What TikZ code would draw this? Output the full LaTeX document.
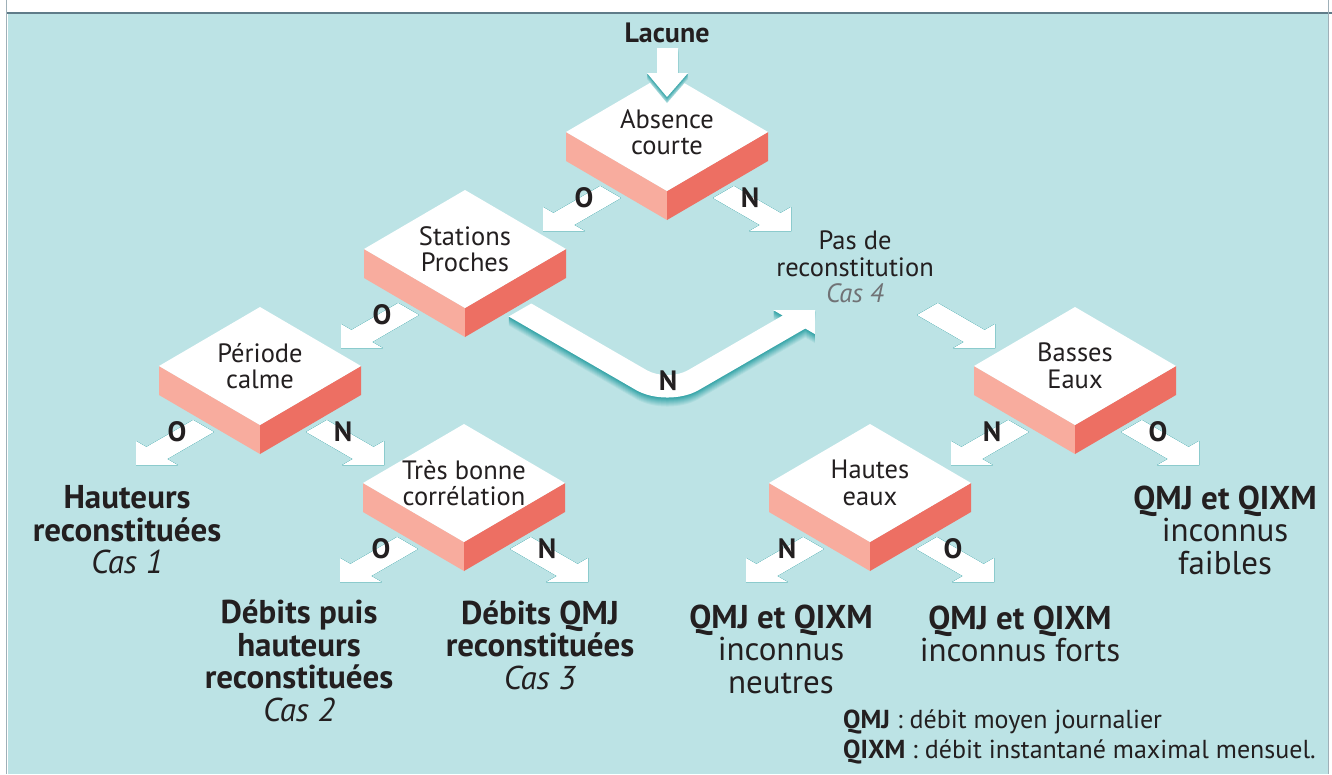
\documentclass[tikz,border=0pt]{standalone}
\usepackage{fontspec}
\setmainfont{PT Sans}
\usetikzlibrary{calc}

\definecolor{fond}{RGB}{188,227,229}
\definecolor{ombre}{RGB}{40,158,162}
\definecolor{flanc}{RGB}{248,172,158}
\definecolor{flancfonce}{RGB}{237,111,99}
\definecolor{encre}{RGB}{35,31,32}
\definecolor{gris}{RGB}{112,114,117}
\definecolor{cadre}{RGB}{95,124,137}

% fleche posee a plat : pointe, direction (dx,dy), y vers le bas
\newcommand{\flecheiso}[3]{(#1) -- ++({-48*(#2)},0) -- ++({12*(#2)},{-12*(#3)})
  -- ++({-54*(#2)},{-54*(#3)}) -- ++({24*(#2)},{-24*(#3)})
  -- ++({54*(#2)},{54*(#3)}) -- ++({12*(#2)},{-12*(#3)}) -- cycle}

\begin{document}
\begin{tikzpicture}[
  x=1pt, y=-1pt,
  bloc/.style={align=center, inner sep=0pt, text=encre, font=\fontsize{26.5}{26.5}\selectfont},
  rep/.style={inner sep=0pt, text=encre, font=\bfseries\fontsize{28}{28}\selectfont},
  resultat/.style={align=center, inner sep=0pt, text=encre, font=\fontsize{33}{32.5}\selectfont},
  legende/.style={align=left, inner sep=0pt, text=encre, font=\fontsize{26}{30}\selectfont},
]
  \useasboundingbox (0,0) rectangle (1332,774);
  \fill[fond] (7.5,14) rectangle (1328,774);
  \draw[cadre, line width=2pt] (6,13) -- (1332,13);
  \draw[cadre!60, line width=1.5pt] (6.5,0) -- (6.5,774);
  \draw[cadre!60, line width=1.5pt] (1328.5,0) -- (1328.5,774);

  % blocs de decision
  \foreach \n/\x/\y/\t in {abs/667/132/{Absence\\courte}, sta/465/249/{Stations\\Proches},
      per/260/366/{Période\\calme}, tre/464/483/{Très bonne\\corrélation},
      bas/1075/366/{Basses\\Eaux}, hau/870/483/{Hautes\\eaux}} {
    \begin{scope}[shift={(\x,\y)}]
      \fill[flanc] (-101,0) -- (0,59) -- (0,88) -- (-101,29) -- cycle;
      \fill[flancfonce] (101,0) -- (0,59) -- (0,88) -- (101,29) -- cycle;
      \fill[white] (-101,0) -- (0,-59) -- (101,0) -- (0,59) -- cycle;
      \node[bloc] (\n) at (0,0) {\t};
    \end{scope}
  }

  % fleches O / N
  \foreach \b/\sx/\lab in {abs/-1/O, abs/1/N, sta/-1/O, per/-1/O, per/1/N, tre/-1/O, tre/1/N,
      bas/-1/N, bas/1/O, hau/-1/N, hau/1/O} {
    \coordinate (\b-\lab) at ($(\b)+({124*\sx},99)$);
    \foreach \k in {9,...,1} {
      \pgfmathtruncatemacro\pct{100-10*\k}
      \fill[ombre!\pct!fond, yshift=-\k pt] \flecheiso{\b-\lab}{.866*\sx}{.5};
    }
    \fill[white] \flecheiso{\b-\lab}{.866*\sx}{.5};
    \node[rep] (r-\b-\lab) at ($(\b)+({83*\sx},66)$) {\lab};
  }

  \coordinate (bas-in) at ($(bas)+(-80,-18)$);
  \foreach \k in {9,...,1} {
    \pgfmathtruncatemacro\pct{100-10*\k}
    \fill[ombre!\pct!fond, yshift=-\k pt] \flecheiso{bas-in}{.866}{.5};
  }
  \fill[white] \flecheiso{bas-in}{.866}{.5};

  % fleche coudee N vers "pas de reconstitution"
  \coordinate (sta-N) at ($(sta)+(55,61)$);
  \def\coude{(11.3,-6.5) -- (126.6,60.1) .. controls (138,66.7) and (156.8,66.7) .. (168.2,60.1)
    -- (262.7,5.5) -- (253.2,0) -- (295,0) -- (294.8,24) -- (285.3,18.5) -- (178.6,80.1)
    .. controls (161.4,90) and (133.4,90) .. (116.2,80.1) -- (-11.3,6.5) -- cycle}
  \begin{scope}[shift={(sta-N)}]
    \foreach \k in {9,...,1} {
      \pgfmathtruncatemacro\pct{100-10*\k}
      \fill[ombre!\pct!fond, yshift=-\k pt] \coude;
    }
    \fill[white] \coude;
    \node[rep] (r-sta-N) at (148,71) {N};
  \end{scope}

  % entree
  \node[rep] (lac) at (667,33) {Lacune};
  \coordinate (lac-tip) at ($(abs)+(0,-35)$);
  \def\entree{(0,0) -- (21,-24) -- (11,-24) -- (11,-49) -- (-10,-49) -- (-10,-24) -- (-20,-24) -- cycle}
  \begin{scope}[shift={(lac-tip)}]
    \foreach \k in {6,...,1} {
      \pgfmathtruncatemacro\pct{100-14*\k}
      \fill[ombre!\pct!fond, yshift=-\k pt] \entree;
    }
    \fill[white] \entree;
  \end{scope}

  \node[bloc] (pas) at (855,267) {Pas de\\reconstitution\\\textcolor{gris}{\textit{Cas 4}}};

  \node[resultat] (cas1) at (127,530) {\textbf{Hauteurs}\\\textbf{reconstituées}\\\textit{Cas 1}};
  \node[resultat] (cas2) at (299,661) {\textbf{Débits puis}\\\textbf{hauteurs}\\\textbf{reconstituées}\\\textit{Cas 2}};
  \node[resultat] (cas3) at (540,645) {\textbf{Débits QMJ}\\\textbf{reconstituées}\\\textit{Cas 3}};
  \node[resultat] (neutres) at (781,649) {\textbf{QMJ et QIXM}\\inconnus\\neutres};
  \node[resultat] (forts) at (1020,634) {\textbf{QMJ et QIXM}\\inconnus forts};
  \node[resultat] (faibles) at (1225,530) {\textbf{QMJ et QIXM}\\inconnus\\faibles};

  \node[legende, anchor=west] (leg) at (843,737) {\textbf{QMJ} : débit moyen journalier\\\textbf{QIXM} : débit instantané maximal mensuel.};
\end{tikzpicture}
\end{document}
